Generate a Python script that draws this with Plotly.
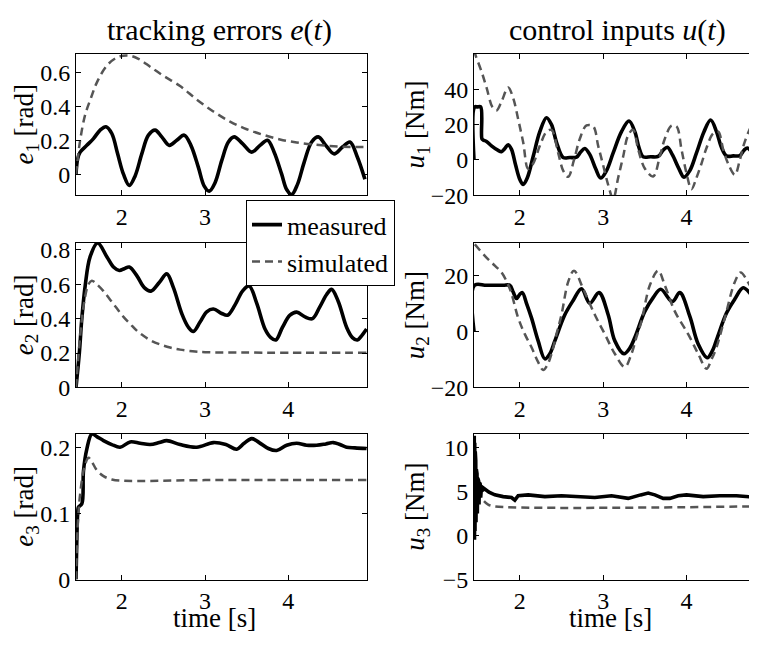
import plotly.graph_objects as go
from plotly.subplots import make_subplots

# ---- data (time in s) ----
t_e1_meas = [1.45, 1.47, 1.50, 1.58, 1.66, 1.74, 1.81, 1.88, 1.95, 2.02, 2.09, 2.16, 2.24, 2.32, 2.40,
             2.48, 2.57, 2.66, 2.75, 2.83, 2.92, 2.99, 3.05, 3.12, 3.20, 3.28, 3.35, 3.45, 3.56, 3.66,
             3.75, 3.83, 3.92, 3.98, 4.04, 4.11, 4.19, 4.28, 4.36, 4.45, 4.55, 4.65, 4.74, 4.83, 4.92]
e1_meas = [0.0, 0.09, 0.13, 0.17, 0.21, 0.26, 0.28, 0.24, 0.12, 0.0, -0.066, -0.01, 0.12, 0.23, 0.26,
           0.22, 0.17, 0.20, 0.23, 0.17, 0.04, -0.07, -0.10, -0.05, 0.08, 0.19, 0.22, 0.18, 0.13, 0.17,
           0.20, 0.13, 0.0, -0.09, -0.12, -0.06, 0.07, 0.19, 0.22, 0.17, 0.12, 0.16, 0.19, 0.10, -0.03]
t_e1_sim = [1.45, 1.50, 1.56, 1.63, 1.70, 1.82, 1.95, 2.08, 2.20, 2.35, 2.50, 2.70, 2.90, 3.10, 3.30,
            3.50, 3.70, 3.90, 4.10, 4.30, 4.60, 4.94]
e1_sim = [0.0, 0.20, 0.35, 0.45, 0.54, 0.64, 0.69, 0.70, 0.68, 0.63, 0.58, 0.52, 0.44, 0.37, 0.31,
          0.265, 0.232, 0.205, 0.187, 0.175, 0.163, 0.16]

t_e2_meas = [1.45, 1.49, 1.52, 1.56, 1.62, 1.71, 1.82, 1.90, 1.97, 2.03, 2.09, 2.18, 2.27, 2.35, 2.45,
             2.54, 2.62, 2.72, 2.80, 2.86, 2.94, 3.02, 3.10, 3.20, 3.27, 3.36, 3.45, 3.53, 3.62, 3.72,
             3.79, 3.85, 3.93, 4.02, 4.10, 4.20, 4.29, 4.38, 4.46, 4.52, 4.60, 4.70, 4.77, 4.83, 4.88, 4.94]
e2_meas = [0.0, 0.2, 0.40, 0.59, 0.76, 0.84, 0.76, 0.70, 0.68, 0.69, 0.70, 0.65, 0.58, 0.56, 0.61,
           0.66, 0.58, 0.43, 0.35, 0.325, 0.38, 0.44, 0.456, 0.43, 0.42, 0.48, 0.56, 0.59, 0.49, 0.34,
           0.29, 0.276, 0.35, 0.42, 0.438, 0.41, 0.40, 0.47, 0.54, 0.57, 0.50, 0.35, 0.29, 0.276, 0.30, 0.34]
t_e2_sim = [1.45, 1.50, 1.55, 1.60, 1.64, 1.70, 1.78, 1.86, 1.94, 2.02, 2.10, 2.18, 2.26, 2.36, 2.46,
            2.58, 2.70, 2.85, 3.00, 3.40, 4.00, 4.94]
e2_sim = [0.0, 0.30, 0.50, 0.60, 0.62, 0.60, 0.56, 0.51, 0.46, 0.41, 0.37, 0.33, 0.30, 0.27, 0.25,
          0.232, 0.22, 0.21, 0.205, 0.203, 0.202, 0.202]

t_e3_meas = [1.45, 1.46, 1.47, 1.48, 1.52, 1.54, 1.58, 1.64, 1.70, 1.78, 1.88, 1.98, 2.10, 2.22, 2.34,
             2.45, 2.54, 2.70, 2.90, 3.10, 3.25, 3.38, 3.47, 3.56, 3.65, 3.76, 3.86, 3.98, 4.10, 4.22,
             4.34, 4.45, 4.54, 4.62, 4.70, 4.80, 4.94]
e3_meas = [0.0, 0.06, 0.10, 0.11, 0.115, 0.165, 0.198, 0.221, 0.217, 0.211, 0.205, 0.201, 0.209, 0.207, 0.205,
           0.208, 0.211, 0.205, 0.201, 0.208, 0.205, 0.198, 0.207, 0.214, 0.208, 0.199, 0.196, 0.204, 0.207, 0.204,
           0.204, 0.206, 0.208, 0.205, 0.201, 0.200, 0.199]
t_e3_sim = [1.45, 1.47, 1.50, 1.55, 1.60, 1.64, 1.70, 1.78, 1.88, 2.02, 3.00, 4.00, 4.94]
e3_sim = [0.0, 0.08, 0.13, 0.17, 0.185, 0.179, 0.166, 0.157, 0.152, 0.150, 0.151, 0.151, 0.151]

t_u1_meas = [1.45, 1.458, 1.49, 1.53, 1.545, 1.56, 1.60, 1.66, 1.74, 1.78, 1.82, 1.86, 1.90, 1.95, 2.00,
             2.04, 2.09, 2.16, 2.24, 2.32, 2.38, 2.44, 2.52, 2.60, 2.68, 2.73, 2.78, 2.84, 2.91, 2.97,
             3.04, 3.12, 3.22, 3.31, 3.38, 3.43, 3.48, 3.57, 3.66, 3.72, 3.77, 3.83, 3.91, 3.97, 4.04,
             4.12, 4.21, 4.29, 4.36, 4.42, 4.48, 4.56, 4.64, 4.69, 4.73, 4.79, 4.85]
u1_meas = [0, 30, 30, 30, 12, 11.3, 10.5, 8, 5.4, 4.7, 6.5, 8.6, 6, -3, -11,
           -13.8, -10, 2, 16, 23.9, 20, 10, 1.4, 1.4, 1.6, 4.5, 6.5, 3, -5, -10.2,
           -6, 4, 16, 22, 16, 7, 1.8, 1.8, 2, 5.5, 7.2, 3, -5, -9.7, -6,
           4, 16, 22.6, 16, 7, 2.3, 2.3, 2.5, 5.5, 6.8, 4, -0.4]
t_u1_sim = [1.45, 1.47, 1.54, 1.60, 1.67, 1.72, 1.78, 1.86, 1.92, 1.98, 2.04, 2.10, 2.16, 2.24, 2.32,
            2.38, 2.46, 2.52, 2.58, 2.65, 2.72, 2.80, 2.88, 2.94, 3.00, 3.06, 3.12, 3.18, 3.24, 3.30,
            3.36, 3.42, 3.50, 3.60, 3.68, 3.74, 3.82, 3.88, 3.94, 4.00, 4.06, 4.12, 4.18, 4.24, 4.32,
            4.38, 4.44, 4.50, 4.58, 4.64, 4.70, 4.80, 4.85]
u1_sim = [62, 59, 50, 41, 30, 28, 33, 41, 35, 23, 10, -5, -2, 8, 16,
          17, 4, -6, -9.5, 0, 12, 19.5, 19, 8, -3, -14, -22, -10, 2, 14,
          17, 6, -4.8, -9.3, 2, 12, 19.4, 19, 6, -7.5, -16.5, -10, -2, 6.8, 15,
          16, 6, -2.1, -8.4, 0, 10.4, 21, 23]

t_u2_meas = [1.45, 1.456, 1.60, 1.80, 1.88, 1.92, 1.96, 2.00, 2.03, 2.08, 2.14, 2.22, 2.30, 2.36, 2.42,
             2.54, 2.64, 2.74, 2.84, 2.95, 3.06, 3.14, 3.25, 3.32, 3.38, 3.50, 3.60, 3.69, 3.83, 3.92,
             4.04, 4.14, 4.25, 4.31, 4.37, 4.48, 4.58, 4.68, 4.78, 4.85]
u2_meas = [0, 16.4, 16.4, 16.4, 16.4, 14, 11.7, 13.2, 13.8, 10, 4.8, -3.4, -9.8, -8, -3.4,
           5.9, 11, 15.2, 10, 13.8, 5.9, -3.4, -8, -6, -2.2, 7.1, 12, 15, 10.6, 13.8,
           5.3, -4.5, -9.4, -7, -2.2, 6.5, 11.5, 15.5, 13, 11.2]
t_u2_sim = [1.46, 1.58, 1.70, 1.78, 1.88, 1.98, 2.06, 2.14, 2.22, 2.28, 2.33, 2.38, 2.44, 2.50, 2.58,
            2.65, 2.76, 2.90, 3.02, 3.14, 3.26, 3.34, 3.40, 3.46, 3.56, 3.66, 3.74, 3.86, 4.02, 4.14,
            4.24, 4.30, 4.36, 4.46, 4.58, 4.65, 4.76, 4.85]
u2_sim = [31, 26.9, 23.4, 21, 15.2, 4.8, -1, -5.7, -11, -13.8, -12, -8, -1, 5.9, 17.6,
          21.6, 15.2, 5.9, -1, -8, -12.7, -8, -2, 3.6, 16.4, 21.6, 16.4, 7.1, -1, -8,
          -13.3, -10, -5.7, 4.8, 17.6, 21, 16.4, 12.3]

t_u3_meas = [1.45, 1.453, 1.456, 1.459, 1.462, 1.465, 1.468, 1.471, 1.474, 1.478, 1.482, 1.486, 1.49,
             1.495, 1.50, 1.505, 1.51, 1.515, 1.52, 1.525, 1.53, 1.54, 1.55, 1.56, 1.63, 1.70, 1.80,
             1.90, 1.94, 1.98, 2.10, 2.30, 2.50, 2.70, 2.90, 3.10, 3.30, 3.45, 3.54, 3.62, 3.72, 3.80,
             3.90, 4.00, 4.20, 4.40, 4.60, 4.85]
u3_meas = [0, 11.3, -0.5, 10.5, 0.5, 9.5, 1, 8.5, 1.5, 7.5, 2, 7, 2.5,
           6.5, 3, 6.2, 3.5, 6, 4, 5.8, 4.3, 5.5, 5, 5.4, 4.9, 4.6, 4.4,
           4.3, 4.0, 4.5, 4.6, 4.4, 4.5, 4.4, 4.3, 4.5, 4.2, 4.6, 4.8, 4.6, 4.2, 4.2,
           4.5, 4.6, 4.4, 4.5, 4.5, 4.3]
t_u3_sim = [1.57, 1.62, 1.70, 4.85]
u3_sim = [3.9, 3.5, 3.3, 3.3]

panels = [
    # (row, col, t_meas, meas, t_sim, sim, y range, tick values, tick text, y label)
    (1, 1, t_e1_meas, e1_meas, t_e1_sim, e1_sim, [-0.125, 0.71], [0, 0.2, 0.4, 0.6], ["0", "0.2", "0.4", "0.6"], "<i>e</i><sub>1</sub> [rad]"),
    (2, 1, t_e2_meas, e2_meas, t_e2_sim, e2_sim, [0, 0.84], [0, 0.2, 0.4, 0.6, 0.8], ["0", "0.2", "0.4", "0.6", "0.8"], "<i>e</i><sub>2</sub> [rad]"),
    (3, 1, t_e3_meas, e3_meas, t_e3_sim, e3_sim, [0, 0.221], [0, 0.1, 0.2], ["0", "0.1", "0.2"], "<i>e</i><sub>3</sub> [rad]"),
    (1, 2, t_u1_meas, u1_meas, t_u1_sim, u1_sim, [-20, 60], [-20, 0, 20, 40], ["\u221220", "0", "20", "40"], "<i>u</i><sub>1</sub> [Nm]"),
    (2, 2, t_u2_meas, u2_meas, t_u2_sim, u2_sim, [-20, 31.5], [-20, 0, 20], ["\u221220", "0", "20"], "<i>u</i><sub>2</sub> [Nm]"),
    (3, 2, t_u3_meas, u3_meas, t_u3_sim, u3_sim, [-5, 11.5], [-5, 0, 5, 10], ["\u22125", "0", "5", "10"], "<i>u</i><sub>3</sub> [Nm]"),
]

# the page puts the figure 8px in from the top-left corner
W, H = 741, 634
OFF = 8


def px(x):
    return (x - OFF) / W


def py(y):
    return 1 - (y - OFF) / H


FONT = "Liberation Serif"
x_dom = {1: [px(76), px(367)], 2: [px(474), 1.0]}
y_dom = {1: [py(195), py(49)], 2: [py(393), py(244)], 3: [py(591), py(441)]}
x_rng = {1: [1.45, 4.945], 2: [1.45, 4.75]}
ylab_x = {1: px(26), 2: px(417)}

fig = make_subplots(rows=3, cols=2)
annotations = []

for row, col, tm, ym, ts, ys, yr, tv, tt, ylab in panels:
    first = (row == 1 and col == 1)
    shape = "linear" if (row == 3 and col == 2) else "spline"
    fig.add_trace(go.Scatter(x=tm, y=ym, mode="lines", name="measured", showlegend=first,
                             line=dict(color="black", width=3.6, shape=shape)), row=row, col=col)
    fig.add_trace(go.Scatter(x=ts, y=ys, mode="lines", name="simulated", showlegend=first,
                             line=dict(color="#555555", width=2.5, dash="8px,5px", shape="spline")),
                  row=row, col=col)
    fig.update_xaxes(domain=x_dom[col], range=x_rng[col], tickvals=[2, 3, 4],
                     showline=True, linecolor="black", linewidth=1,
                     mirror="ticks", ticks="inside", ticklen=5, tickcolor="black",
                     showgrid=False, zeroline=False,
                     tickfont=dict(family=FONT, size=24, color="black"), row=row, col=col)
    fig.update_yaxes(domain=y_dom[row], range=yr, tickvals=tv, ticktext=tt,
                     showline=True, linecolor="black", linewidth=1,
                     mirror="ticks" if col == 1 else False, ticks="inside", ticklen=5, tickcolor="black",
                     showgrid=False, zeroline=False,
                     tickfont=dict(family=FONT, size=24, color="black"), row=row, col=col)
    # rotated y label
    yc = (y_dom[row][0] + y_dom[row][1]) / 2
    annotations.append(dict(x=ylab_x[col], y=yc, xref="paper", yref="paper", text=ylab, showarrow=False,
                            textangle=-90, xanchor="center", yanchor="middle",
                            font=dict(family=FONT, size=27, color="black")))

annotations += [
    dict(x=px(220), y=py(24), text="tracking errors <i>e</i>(<i>t</i>)", font=dict(family=FONT, size=30, color="black")),
    dict(x=px(617), y=py(24), text="control inputs <i>u</i>(<i>t</i>)", font=dict(family=FONT, size=30, color="black")),
    dict(x=px(214), y=py(631), text="time [s]", font=dict(family=FONT, size=27, color="black")),
    dict(x=px(610), y=py(631), text="time [s]", font=dict(family=FONT, size=27, color="black")),
]
for a in annotations[-4:]:
    a.update(xref="paper", yref="paper", showarrow=False, xanchor="center", yanchor="middle")

fig.update_layout(
    width=W, height=H,
    margin=dict(l=0, r=0, t=0, b=0),
    paper_bgcolor="white", plot_bgcolor="white",
    annotations=annotations,
    legend=dict(x=px(246), y=py(200), xanchor="left", yanchor="top",
                bgcolor="white", bordercolor="black", borderwidth=1,
                itemwidth=30, tracegroupgap=0,
                font=dict(family=FONT, size=26, color="black")),
)

fig.write_html("out.html")
